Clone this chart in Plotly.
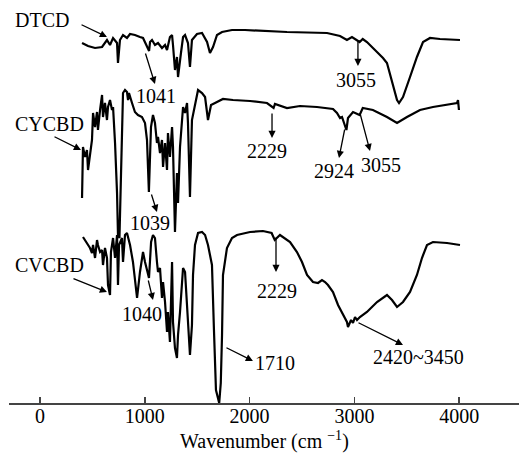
import plotly.graph_objects as go

# ---- data: wavenumber (cm^-1) and stacked transmittance (arbitrary units) ----
dtcd_wn = [401, 458, 525, 592, 639, 668, 697, 735, 744, 763, 792, 830, 859, 906, 954, 983,
           1041, 1050, 1069, 1097, 1126, 1164, 1193, 1212, 1240, 1260, 1269, 1288, 1307, 1317,
           1345, 1365, 1384, 1412, 1431, 1450, 1498, 1546, 1594, 1622, 1651, 1689, 1737, 1832,
           1956, 2357, 2739, 2863, 2929, 2977, 3050, 3080, 3120, 3197, 3273, 3311, 3359, 3407,
           3426, 3464, 3531, 3597, 3655, 3722, 3817, 4008]
dtcd_t = [360, 357, 355, 356, 363, 358, 365, 360, 340, 363, 368, 365, 369, 368, 366, 365,
          352, 361, 363, 358, 360, 355, 358, 353, 366, 368, 358, 333, 346, 326,
          350, 366, 368, 360, 336, 363, 369, 370, 361, 350, 356, 368, 371, 373,
          373, 371, 370, 367, 363, 366, 361, 364, 361, 353, 345, 340, 320, 303,
          300, 306, 326, 346, 361, 365, 364, 363]

cycbd_wn = [401, 410, 429, 448, 458, 477, 496, 506, 525, 544, 553, 573, 592, 601, 620, 639,
            649, 668, 687, 697, 716, 735, 744, 758, 768, 782, 792, 811, 830, 840, 849, 878,
            906, 935, 973, 1002, 1021, 1039, 1059, 1078, 1097, 1116, 1126, 1145, 1164, 1174,
            1193, 1212, 1221, 1240, 1260, 1269, 1288, 1307, 1317, 1336, 1355, 1365, 1384, 1403,
            1412, 1431, 1450, 1479, 1508, 1546, 1575, 1603, 1632, 1670, 1746, 1842, 2004, 2166,
            2229, 2242, 2357, 2481, 2643, 2796, 2834, 2863, 2882, 2924, 2939, 2987, 3050, 3080,
            3177, 3311, 3407, 3502, 3626, 3750, 3884, 3979, 3989, 3998]
cycbd_t = [205, 256, 246, 253, 233, 251, 263, 290, 276, 291, 273, 293, 308, 286, 300, 283,
           296, 303, 293, 296, 260, 210, 168, 165, 200, 256, 310, 313, 311, 303, 310, 300,
           291, 288, 286, 280, 263, 211, 276, 288, 280, 260, 266, 250, 263, 236,
           260, 233, 270, 246, 276, 256, 171, 230, 200, 256, 290, 296, 290, 300,
           280, 206, 283, 300, 313, 310, 306, 283, 298, 300, 304, 303, 302, 300,
           295, 299, 295, 297, 296, 294, 290, 285, 286, 273, 285, 291, 288, 295,
           293, 286, 280, 286, 293, 296, 298, 300, 303, 293]

cvcbd_wn = [410, 429, 458, 477, 496, 506, 525, 544, 553, 573, 592, 601, 620, 639, 649, 668,
            677, 697, 716, 735, 744, 754, 782, 792, 811, 830, 859, 887, 926, 954, 983, 1002,
            1040, 1060, 1078, 1097, 1116, 1126, 1145, 1164, 1174, 1193, 1212, 1221, 1240, 1260,
            1269, 1288, 1307, 1317, 1336, 1355, 1365, 1384, 1403, 1412, 1431, 1450, 1460, 1479,
            1508, 1546, 1575, 1603, 1641, 1660, 1679, 1710, 1725, 1737, 1746, 1784, 1832, 1880,
            2004, 2128, 2210, 2240, 2290, 2386, 2452, 2500, 2548, 2605, 2653, 2691, 2720, 2748,
            2796, 2844, 2891, 2929, 2939, 2968, 2987, 3006, 3025, 3053, 3120, 3216, 3311, 3359,
            3407, 3464, 3531, 3597, 3645, 3693, 3750, 3884, 4008]
cvcbd_t = [166, 163, 158, 155, 150, 158, 145, 163, 158, 151, 153, 138, 155, 145, 118, 108,
           151, 165, 145, 168, 118, 158, 165, 141, 168, 170, 158, 141, 105, 131, 151, 141,
           125, 161, 168, 165, 141, 131, 135, 105, 121, 101, 71, 91, 61, 141,
           81, 55, 45, 68, 91, 118, 135, 131, 95, 78, 48, 78, 128, 158,
           170, 171, 168, 158, 138, 73, 13, 0, 20, 68, 128, 155, 165, 168,
           171, 172, 170, 163, 168, 161, 151, 141, 128, 121, 120, 123, 121, 118,
           111, 98, 88, 81, 76, 83, 80, 86, 83, 86, 91, 101, 108, 103,
           96, 101, 111, 128, 145, 158, 161, 160, 158]

tick_vals = [0, 1000, 2000, 3000, 4000]

# labels: (text, x, y)
labels = [("DTCD", 19, 383), ("1041", 1107, 307), ("3055", 3015, 323),
          ("CYCBD", 86, 279), ("2229", 2166, 252), ("2924", 2805, 232), ("3055", 3253, 238),
          ("1039", 1050, 180), ("CVCBD", 86, 138), ("1040", 973, 89), ("1710", 2242, 40),
          ("2229", 2261, 112), ("2420~3450", 3616, 46)]
# arrows: (tail x, tail y, head x, head y)
arrows = [(382, 379, 639, 366), (1002, 351, 1097, 319), (3034, 363, 3034, 337),
          (124, 267, 391, 253), (2214, 291, 2214, 265), (2910, 275, 2853, 245),
          (3053, 290, 3149, 252), (1059, 210, 1116, 191), (305, 125, 639, 111),
          (1030, 124, 1078, 103), (1765, 56, 2032, 42), (2252, 167, 2252, 131),
          (3025, 81, 3464, 58)]

FONT = "Liberation Serif, Times New Roman, serif"

fig = go.Figure()
for wn, t in [(dtcd_wn, dtcd_t), (cycbd_wn, cycbd_t), (cvcbd_wn, cvcbd_t)]:
    fig.add_trace(go.Scatter(x=wn, y=t, mode="lines",
                             line=dict(color="black", width=2.2), showlegend=False,
                             hoverinfo="skip", cliponaxis=False))

annotations = []
for txt, x, y in labels:
    annotations.append(dict(x=x, y=y, xref="x", yref="y", text=txt, showarrow=False,
                            font=dict(family=FONT, size=20, color="black"),
                            xanchor="center", yanchor="middle"))
for tx, ty, hx, hy in arrows:
    annotations.append(dict(x=hx, y=hy, ax=tx, ay=ty, xref="x", yref="y",
                            axref="x", ayref="y", text="", showarrow=True,
                            arrowhead=2, arrowsize=1.1, arrowwidth=1.3,
                            arrowcolor="black", standoff=0, startstandoff=0))
# axis title as a paper annotation
annotations.append(dict(x=0.5, y=0, xref="paper", yref="paper", yshift=-37,
                        text="Wavenumber (cm <sup>−1</sup>)", showarrow=False,
                        font=dict(family=FONT, size=20, color="black"),
                        xanchor="center", yanchor="middle"))

fig.update_layout(
    width=520, height=458,
    margin=dict(l=9, r=1, t=0, b=55, autoexpand=False),
    paper_bgcolor="white", plot_bgcolor="white",
    font=dict(family=FONT, size=20, color="black"),
    annotations=annotations,
    xaxis=dict(range=[-296, 4571], showline=True, linecolor="#444", linewidth=1.5,
               ticks="inside", ticklen=6, tickwidth=1.5, tickcolor="#444",
               tickvals=tick_vals, ticktext=[str(v) for v in tick_vals],
               showgrid=False, zeroline=False, automargin=False,
               ticklabelstandoff=-6,
               tickfont=dict(family=FONT, size=20, color="black")),
    yaxis=dict(range=[0, 403], visible=False, showgrid=False, zeroline=False,
               automargin=False),
)

fig.write_html("out.html",
               config={"displayModeBar": False, "staticPlot": True},
               post_script="document.body.style.margin='0px';"
                           "document.body.style.overflow='hidden';")
